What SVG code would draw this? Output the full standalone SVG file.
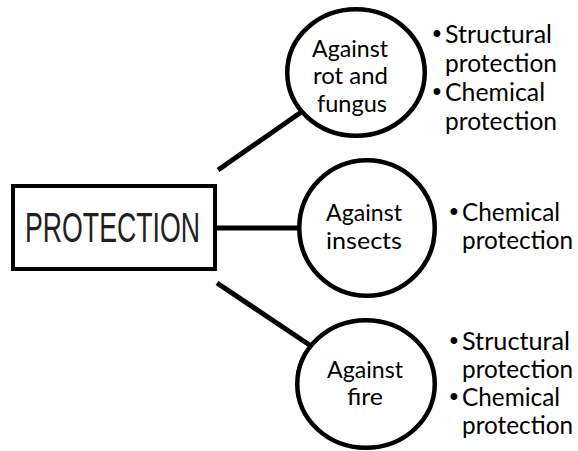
<svg xmlns="http://www.w3.org/2000/svg" width="578" height="451" viewBox="0 0 578 451">
  <style>
    .conn { stroke: #000; stroke-width: 5; fill: none; }
    .node { fill: #fff; stroke: #000; stroke-width: 4.5; }
    .box { fill: #fff; stroke: #000; stroke-width: 4; }
    .ctext { font-family: Lato, "Open Sans", "Liberation Sans", sans-serif; font-size: 24px; fill: #000; }
    .btext { font-family: Lato, "Open Sans", "Liberation Sans", sans-serif; font-size: 25px; fill: #000; }
    .bul { font-family: "Liberation Sans", Arial, sans-serif; font-size: 25px; fill: #000; text-anchor: middle; }
    .main { font-family: "Liberation Sans Narrow", "Liberation Sans", Arial, sans-serif; font-size: 43px; fill: #231f20; }
  </style>
  <rect width="578" height="451" fill="#fff"/>
  <g id="connectors">
    <line class="conn" x1="218" y1="170" x2="310" y2="106"/>
    <line class="conn" x1="217" y1="228" x2="305" y2="228"/>
    <line class="conn" x1="217" y1="283" x2="320" y2="352"/>
  </g>
  <g id="protection">
    <rect class="box" x="13" y="186" width="202" height="83"/>
    <text class="main" x="25" y="242" textLength="175" lengthAdjust="spacingAndGlyphs">PROTECTION</text>
  </g>
  <g id="rot">
    <ellipse class="node" cx="356" cy="72.5" rx="68.75" ry="63.25"/>
    <text class="ctext" x="312" y="57" textLength="76" lengthAdjust="spacingAndGlyphs">Against</text>
    <text class="ctext" x="313" y="84" textLength="75" lengthAdjust="spacingAndGlyphs">rot and</text>
    <text class="ctext" x="317" y="112" textLength="70" lengthAdjust="spacingAndGlyphs">fungus</text>
  </g>
  <g id="rot-list">
    <text class="bul" x="437" y="42">•</text>
    <text class="btext" x="445" y="43" textLength="107" lengthAdjust="spacingAndGlyphs">Structural</text>
    <text class="btext" x="445" y="72" textLength="112" lengthAdjust="spacingAndGlyphs">protection</text>
    <text class="bul" x="437" y="100">•</text>
    <text class="btext" x="445" y="101" textLength="100" lengthAdjust="spacingAndGlyphs">Chemical</text>
    <text class="btext" x="445" y="130" textLength="112" lengthAdjust="spacingAndGlyphs">protection</text>
  </g>
  <g id="insects">
    <ellipse class="node" cx="367" cy="228" rx="67.75" ry="67.75"/>
    <text class="ctext" x="326" y="221" textLength="76" lengthAdjust="spacingAndGlyphs">Against</text>
    <text class="ctext" x="326" y="249" textLength="76" lengthAdjust="spacingAndGlyphs">insects</text>
  </g>
  <g id="insects-list">
    <text class="bul" x="454" y="220">•</text>
    <text class="btext" x="462" y="221" textLength="98" lengthAdjust="spacingAndGlyphs">Chemical</text>
    <text class="btext" x="462" y="249" textLength="111" lengthAdjust="spacingAndGlyphs">protection</text>
  </g>
  <g id="fire">
    <ellipse class="node" cx="366" cy="384" rx="68.75" ry="63.75"/>
    <text class="ctext" x="327" y="378" textLength="76" lengthAdjust="spacingAndGlyphs">Against</text>
    <text class="ctext" x="347" y="405" textLength="36" lengthAdjust="spacingAndGlyphs">fire</text>
  </g>
  <g id="fire-list">
    <text class="bul" x="454" y="349">•</text>
    <text class="btext" x="462" y="350" textLength="108" lengthAdjust="spacingAndGlyphs">Structural</text>
    <text class="btext" x="462" y="378" textLength="111" lengthAdjust="spacingAndGlyphs">protection</text>
    <text class="bul" x="454" y="405">•</text>
    <text class="btext" x="462" y="406" textLength="98" lengthAdjust="spacingAndGlyphs">Chemical</text>
    <text class="btext" x="462" y="434" textLength="111" lengthAdjust="spacingAndGlyphs">protection</text>
  </g>
</svg>
